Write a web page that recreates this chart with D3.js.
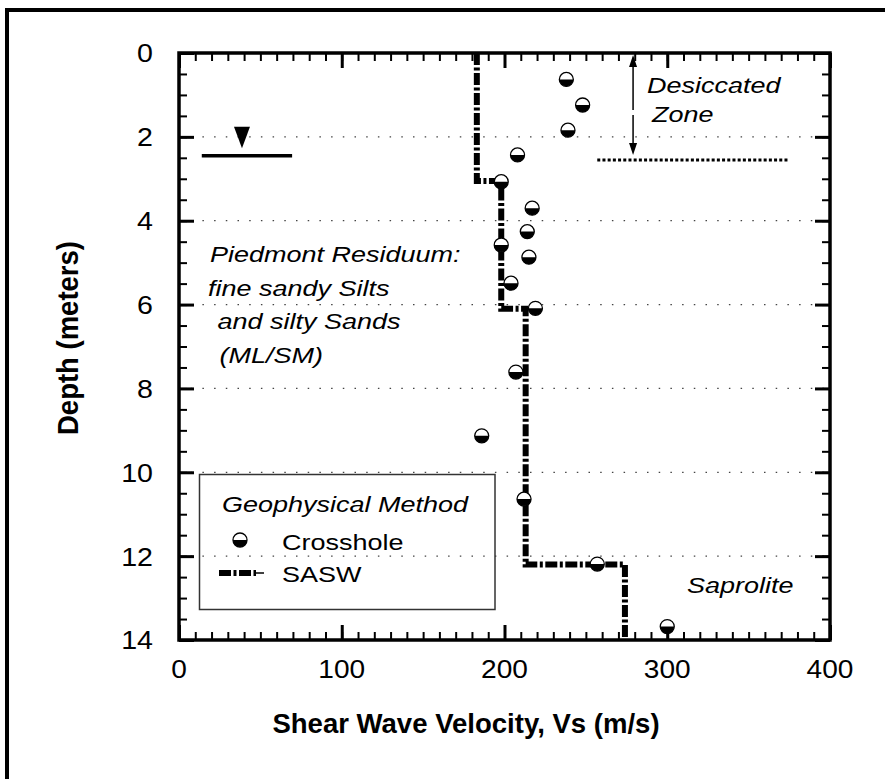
<!DOCTYPE html>
<html>
<head>
<meta charset="utf-8">
<script src="https://cdn.jsdelivr.net/npm/d3@7"></script>
<style>
  body { margin: 0; background: #fff; }
  text { font-family: "Liberation Sans", Arial, sans-serif; fill: #000; }
</style>
</head>
<body>
<svg id="chart" width="885" height="779"></svg>
<script>
// crosshole measurements (velocity m/s, depth m)
const crossVs = [238, 248, 239, 208, 198, 217, 214, 198, 215, 204, 219, 207, 186, 212, 257, 300];
const crossDepth = [0.63, 1.24, 1.84, 2.43, 3.07, 3.70, 4.26, 4.58, 4.87, 5.49, 6.09, 7.61, 9.13, 10.64, 12.19, 13.68];

// SASW layered profile
const saswVs = [183, 198, 213, 274];
const saswTop = [0, 3.05, 6.1, 12.2];
const saswBottom = [3.05, 6.1, 12.2, 14];

const xTicks = [0, 100, 200, 300, 400];
const yTicks = [0, 2, 4, 6, 8, 10, 12, 14];
const gridDepths = [2, 4, 6, 8, 10, 12];

const residuumLines = ["Piedmont Residuum:", "fine sandy Silts", " and silty Sands", " (ML/SM)"];

const margin = { top: 53, right: 55, bottom: 139, left: 179 };
const width = 885 - margin.left - margin.right;
const height = 779 - margin.top - margin.bottom;
const SX = 1.2; // the original lettering is stretched sideways

const svg = d3.select("#chart");

// outer frame (left and top only)
svg.append("path")
  .attr("d", "M7,779 L7,10 L885,10")
  .attr("fill", "none")
  .attr("stroke", "#000")
  .attr("stroke-width", 4);

function label(sel, x, y, str, size, opts = {}) {
  const sx = opts.sx || SX;
  return sel.append("text")
    .attr("transform", `translate(${x},${y}) scale(${sx},1)` + (opts.rotate ? ` rotate(${opts.rotate})` : ""))
    .attr("font-size", size)
    .attr("font-style", opts.italic ? "italic" : "normal")
    .attr("font-weight", opts.bold ? "bold" : "normal")
    .attr("text-anchor", opts.anchor || "start")
    .attr("dy", opts.dy || 0)
    .style("white-space", "pre")
    .text(str);
}

const g = svg.append("g")
  .attr("transform", "translate(" + margin.left + "," + margin.top + ")");

const x = d3.scaleLinear().domain([0, 400]).range([0, width]);
const y = d3.scaleLinear().domain([0, 14]).range([0, height]);

// dotted gridlines
g.selectAll(".grid")
  .data(gridDepths)
  .join("line")
  .attr("x1", 0).attr("x2", width)
  .attr("y1", d => y(d)).attr("y2", d => y(d))
  .attr("stroke", "#444")
  .attr("stroke-width", 1.3)
  .attr("stroke-dasharray", "1.5,10.2");

// ticks, all pointing inward on four sides
function ticks(axis, transform, values, size, sw) {
  const a = g.append("g")
    .attr("transform", transform)
    .call(axis.tickValues(values).tickSize(size).tickFormat(""));
  a.select(".domain").remove();
  a.selectAll("line").attr("stroke", "#000").attr("stroke-width", sw);
}
const minorX = d3.range(0, 401, 10);
const minorY = d3.range(0, 14.01, 0.5);
ticks(d3.axisBottom(x), `translate(0,${height})`, minorX, -8, 2);
ticks(d3.axisBottom(x), `translate(0,${height})`, xTicks, -15, 3);
ticks(d3.axisTop(x), "translate(0,0)", minorX, -8, 2);
ticks(d3.axisTop(x), "translate(0,0)", xTicks, -15, 3);
ticks(d3.axisLeft(y), "translate(0,0)", minorY, -8, 2);
ticks(d3.axisLeft(y), "translate(0,0)", yTicks, -15, 3);
ticks(d3.axisRight(y), `translate(${width},0)`, minorY, -8, 2);
ticks(d3.axisRight(y), `translate(${width},0)`, yTicks, -15, 3);

// plot frame
g.append("rect")
  .attr("width", width).attr("height", height)
  .attr("fill", "none")
  .attr("stroke", "#000")
  .attr("stroke-width", 3.5);

// tick labels
yTicks.forEach(d => label(g, -26, y(d), String(d), 26, { anchor: "end", dy: "0.36em", sx: 1.1 }));
xTicks.forEach(d => label(g, x(d), height + 38, String(d), 26, { anchor: "middle", sx: 1.08 }));

// axis titles
label(svg, 466, 733, "Shear Wave Velocity, Vs (m/s)", 27, { bold: true, anchor: "middle", sx: 1.02 });
label(svg, 78, 338, "Depth (meters)", 27.5, { bold: true, anchor: "middle", rotate: -90, sx: 1.05 });

// SASW step profile
const saswPts = [];
saswVs.forEach((v, i) => {
  saswPts.push([v, saswTop[i]]);
  saswPts.push([v, saswBottom[i]]);
});
const saswStyle = sel => sel
  .attr("fill", "none")
  .attr("stroke", "#000")
  .attr("stroke-width", 6)
  .attr("stroke-dasharray", "12,2.5,3,2.5");
g.append("path")
  .datum(saswPts)
  .call(saswStyle)
  .attr("d", d3.line().x(d => x(d[0])).y(d => y(d[1])));

// crosshole markers: top half white, bottom half black
function halfCircle(sel, cx, cy) {
  const m = sel.append("g").attr("transform", `translate(${cx},${cy})`);
  m.append("circle").attr("r", 7).attr("fill", "#fff").attr("stroke", "#000").attr("stroke-width", 1.3);
  m.append("path").attr("d", "M-7,0 A7,7 0 0 0 7,0 Z").attr("fill", "#000");
}
crossVs.forEach((v, i) => halfCircle(g, x(v), y(crossDepth[i])));

// water table symbol
const wtV = 38.7, wtTop = 1.76, wtTip = 2.27, wtDepth = 2.45;
g.append("path")
  .attr("d", `M${x(wtV) - 8},${y(wtTop)} L${x(wtV) + 8},${y(wtTop)} L${x(wtV)},${y(wtTip)} Z`)
  .attr("fill", "#000");
g.append("line")
  .attr("x1", x(14)).attr("x2", x(69.5))
  .attr("y1", y(wtDepth)).attr("y2", y(wtDepth))
  .attr("stroke", "#000").attr("stroke-width", 3.5);

// desiccated zone arrow
const dzV = 279, dzBottom = 2.43;
const ax = x(dzV), ay0 = y(0) + 2, ay1 = y(dzBottom);
g.append("path").attr("d", `M${ax},${ay0} L${ax - 4},${ay0 + 12} L${ax + 4},${ay0 + 12} Z`).attr("fill", "#000");
g.append("path").attr("d", `M${ax},${ay1} L${ax - 4},${ay1 - 12} L${ax + 4},${ay1 - 12} Z`).attr("fill", "#000");
g.append("line").attr("x1", ax).attr("x2", ax).attr("y1", ay0 + 10).attr("y2", y(1.36))
  .attr("stroke", "#000").attr("stroke-width", 1.5);
g.append("line").attr("x1", ax).attr("x2", ax).attr("y1", y(1.48)).attr("y2", ay1 - 10)
  .attr("stroke", "#000").attr("stroke-width", 1.5);

// base of desiccated zone
g.append("line")
  .attr("x1", x(257)).attr("x2", x(374))
  .attr("y1", y(2.55)).attr("y2", y(2.55))
  .attr("stroke", "#000").attr("stroke-width", 3)
  .attr("stroke-dasharray", "3,2.2");

// annotation texts
label(svg, 647, 93, "Desiccated", 22.5, { italic: true });
label(svg, 652, 122, "Zone", 22.5, { italic: true });
label(svg, 687, 593, "Saprolite", 22.5, { italic: true });
const resX = [210, 208, 210, 212];
residuumLines.forEach((s, i) => label(svg, resX[i], 262 + i * 33.5, s, 22.5, { italic: true }));

// legend
svg.append("rect")
  .attr("x", 199.5).attr("y", 474.5)
  .attr("width", 295.5).attr("height", 135)
  .attr("fill", "none")
  .attr("stroke", "#333")
  .attr("stroke-width", 1.5);
label(svg, 222, 512, "Geophysical Method", 22.5, { italic: true });
halfCircle(svg, 240, 540);
label(svg, 282, 550, "Crosshole", 22.5);
svg.append("line")
  .attr("x1", 219).attr("x2", 256).attr("y1", 573).attr("y2", 573)
  .call(saswStyle);
svg.append("line")
  .attr("x1", 256).attr("x2", 264).attr("y1", 573).attr("y2", 573)
  .attr("stroke", "#000").attr("stroke-width", 1.5);
label(svg, 282, 582, "SASW", 22.5);
</script>
</body>
</html>
